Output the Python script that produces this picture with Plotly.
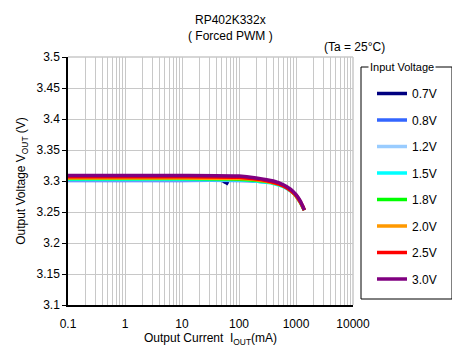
import plotly.graph_objects as go

# Output current (mA) sample points and output voltage per input voltage
vin_labels = ["0.7V", "0.8V", "1.2V", "1.5V", "1.8V", "2.0V", "2.5V", "3.0V"]
colors = ["#000080", "#3366ff", "#99ccff", "#00ffff", "#00ff00", "#ff9900", "#ff0000", "#800080"]

iout_07 = [0.1, 1, 10, 40, 50, 55, 60, 65]
vout_07 = [3.302, 3.302, 3.302, 3.302, 3.301, 3.299, 3.297, 3.295]

iout_08 = [0.1, 1, 10, 100, 200, 300]
vout_08 = [3.301, 3.301, 3.301, 3.301, 3.300, 3.298]

iout_12 = [0.1, 1, 10, 100, 200, 400, 600]
vout_12 = [3.302, 3.302, 3.302, 3.302, 3.301, 3.298, 3.294]

iout_hi = [0.1, 1, 10, 100, 200, 400, 600, 800, 1000, 1200, 1300, 1400]
vout_15 = [3.303, 3.303, 3.303, 3.302, 3.300, 3.296, 3.291, 3.284, 3.276, 3.265, 3.259, 3.253]
vout_18 = [3.304, 3.304, 3.304, 3.303, 3.301, 3.297, 3.292, 3.285, 3.276, 3.265, 3.259, 3.253]
vout_20 = [3.305, 3.305, 3.305, 3.304, 3.302, 3.297, 3.292, 3.285, 3.276, 3.265, 3.259, 3.253]
vout_25 = [3.307, 3.307, 3.307, 3.306, 3.303, 3.298, 3.292, 3.285, 3.277, 3.266, 3.260, 3.253]
vout_30 = [3.309, 3.309, 3.309, 3.308, 3.305, 3.300, 3.294, 3.287, 3.278, 3.267, 3.260, 3.253]

series = [
    (iout_07, vout_07), (iout_08, vout_08), (iout_12, vout_12),
    (iout_hi, vout_15), (iout_hi, vout_18), (iout_hi, vout_20),
    (iout_hi, vout_25), (iout_hi, vout_30),
]

x_ticks = [0.1, 1, 10, 100, 1000, 10000]
x_tick_text = ["0.1", "1", "10", "100", "1000", "10000"]
y_ticks = [3.1, 3.15, 3.2, 3.25, 3.3, 3.35, 3.4, 3.45, 3.5]
y_tick_text = ["3.1", "3.15", "3.2", "3.25", "3.3", "3.35", "3.4", "3.45", "3.5"]

FONT = "Liberation Sans, Arial, sans-serif"
GRID = "#c8c8c8"

# plot area in pixels
L, R, T, B = 68, 353, 57, 305
PW, PH = R - L, B - T


def px(x):
    return (x - L) / PW


def py(y):
    return (B - y) / PH


fig = go.Figure()
for (x, y), name, c in zip(series, vin_labels, colors):
    fig.add_trace(go.Scatter(
        x=x, y=y, mode="lines", name=name, legendgroup=name,
        line=dict(color=c, width=3.5, shape="spline", smoothing=0.6),
    ))

fig.update_layout(
    width=452, height=347,
    margin=dict(l=L, r=452 - R, t=T, b=347 - B, autoexpand=False),
    paper_bgcolor="white", plot_bgcolor="white",
    font=dict(family=FONT, size=12, color="#000"),
    showlegend=True,
    legend=dict(
        x=px(372), xanchor="left", y=py(79), yanchor="top",
        bgcolor="rgba(0,0,0,0)", borderwidth=0,
        font=dict(family=FONT, size=12),
        tracegroupgap=7.5, itemwidth=30,
    ),
    xaxis=dict(
        type="log", range=[-1, 4],
        tickvals=x_ticks, ticktext=x_tick_text,
        showgrid=True, gridcolor=GRID, gridwidth=1,
        minor=dict(showgrid=True, gridcolor=GRID, dtick="D1"),
        showline=True, linecolor="#000", linewidth=1.5, mirror=False,
        ticks="outside", ticklen=7, tickcolor="rgba(0,0,0,0)",
        zeroline=False, automargin=False,
        title=dict(text="Output Current  I<sub>OUT</sub>(mA)", standoff=0,
                   font=dict(family=FONT, size=12)),
    ),
    yaxis=dict(
        range=[3.1, 3.5], tickvals=y_ticks, ticktext=y_tick_text,
        showgrid=True, gridcolor=GRID, gridwidth=1,
        showline=True, linecolor="#000", linewidth=1.5,
        ticks="outside", ticklen=4, tickcolor="#000",
        zeroline=False, automargin=False,
        title=dict(text="Output Voltage V<sub>OUT</sub> (V)", standoff=8,
                   font=dict(family=FONT, size=12)),
    ),
    shapes=[
        # top and right plot border
        dict(type="line", xref="paper", yref="paper", x0=0, x1=1, y0=1, y1=1,
             line=dict(color=GRID, width=1.5)),
        dict(type="line", xref="paper", yref="paper", x0=1, x1=1, y0=0, y1=1,
             line=dict(color=GRID, width=1.5)),
        # legend frame
        dict(type="rect", xref="paper", yref="paper",
             x0=px(361), x1=px(452), y0=py(299), y1=py(67),
             line=dict(color="#000", width=1)),
    ],
    annotations=[
        dict(text="RP402K332x", xref="paper", yref="paper",
             x=px(230), y=py(20), showarrow=False,
             font=dict(family=FONT, size=12), xanchor="center", yanchor="middle"),
        dict(text="( Forced PWM )", xref="paper", yref="paper",
             x=px(230), y=py(36), showarrow=False,
             font=dict(family=FONT, size=12), xanchor="center", yanchor="middle"),
        dict(text="(Ta = 25°C)", xref="paper", yref="paper",
             x=px(387), y=py(47), showarrow=False,
             font=dict(family=FONT, size=12), xanchor="right", yanchor="middle"),
        dict(text="Input Voltage", xref="paper", yref="paper",
             x=px(368), y=py(67), showarrow=False,
             font=dict(family=FONT, size=11), xanchor="left", yanchor="middle",
             bgcolor="white", borderpad=1),
    ],
)

fig.write_html("out.html")
